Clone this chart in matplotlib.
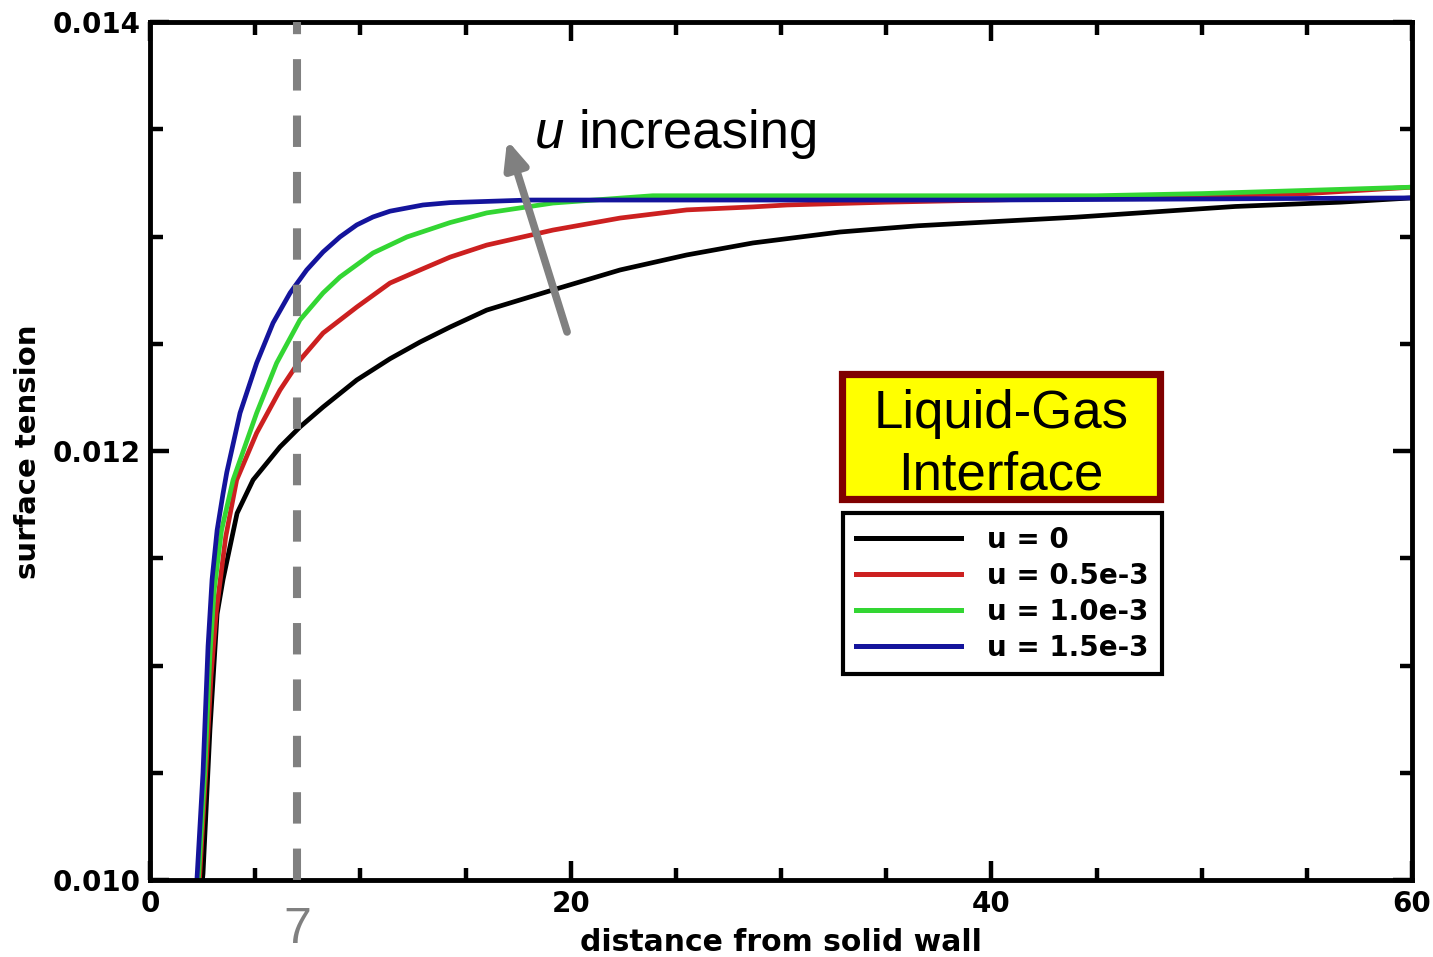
import matplotlib
matplotlib.use("Agg")
import matplotlib.pyplot as plt
from matplotlib.ticker import MultipleLocator, FixedLocator
from matplotlib.patches import Rectangle

# surface tension vs distance from the wall, for four wall velocities
x_u0 = [2.4, 2.52, 2.85, 3.19, 3.47, 4.14, 4.90, 6.18, 7.13, 8.23, 9.83, 11.41,
        12.84, 14.27, 16.01, 19.16, 22.35, 25.52, 28.67, 32.81, 36.5, 44.0, 47.8,
        51.6, 56.6, 60.0]
y_u0 = [0.00990, 0.01003, 0.01070, 0.01124, 0.01140, 0.01171, 0.011865, 0.012019,
        0.012112, 0.012205, 0.012331, 0.012430, 0.012508, 0.012578, 0.012657,
        0.012751, 0.012844, 0.012914, 0.012970, 0.013021, 0.01305, 0.01309,
        0.013115, 0.01314, 0.01316, 0.01318]

x_u05 = [2.25, 2.35, 2.65, 2.9, 3.15, 3.6, 4.12, 5.07, 6.18, 7.13, 8.23, 9.83,
         11.41, 12.84, 14.27, 16.01, 19.16, 22.35, 25.52, 28.67, 30.3, 35.0, 45.0,
         55.0, 60.0]
y_u05 = [0.00990, 0.01000, 0.01050, 0.01095, 0.01125, 0.01160, 0.011865, 0.012084,
         0.012284, 0.012424, 0.012550, 0.012671, 0.012783, 0.012844, 0.012904,
         0.012960, 0.013030, 0.013086, 0.013124, 0.013138, 0.013147, 0.01316,
         0.01318, 0.01320, 0.01323]

x_u10 = [2.2, 2.3, 2.6, 2.85, 3.05, 3.4, 3.95, 5.07, 6.02, 7.13, 8.23, 9.03, 10.6,
         12.22, 14.27, 16.01, 19.16, 23.9, 45.0, 50.0, 60.0]
y_u10 = [0.00990, 0.01000, 0.01050, 0.01105, 0.01135, 0.01163, 0.011865, 0.012177,
         0.012410, 0.012611, 0.012737, 0.012811, 0.012923, 0.012998, 0.013065,
         0.013110, 0.013156, 0.013190, 0.01319, 0.01320, 0.01323]

x_u15 = [2.15, 2.23, 2.52, 2.76, 2.95, 3.19, 3.47, 3.65, 4.28, 5.07, 5.85, 6.66,
         7.45, 8.23, 9.03, 9.83, 10.6, 11.41, 12.98, 14.27, 18.0, 25.0, 40.0, 60.0]
y_u15 = [0.00990, 0.01000, 0.01050, 0.01109, 0.01140, 0.01163, 0.01180, 0.01190,
         0.012177, 0.012410, 0.012597, 0.012737, 0.012844, 0.012928, 0.012998,
         0.013054, 0.013091, 0.013118, 0.013147, 0.013158, 0.01317, 0.01317,
         0.01317, 0.01318]

labels = ["u = 0", "u = 0.5e-3", "u = 1.0e-3", "u = 1.5e-3"]
colors = ["black", "#cc2020", "#33d633", "#14149c"]

x_cut = 7

fig = plt.figure(figsize=(14.33, 9.57), dpi=100)
ax = fig.add_axes([150 / 1433, 1 - 880 / 957, 1262 / 1433, 858 / 957])

series = [(x_u0, y_u0), (x_u05, y_u05), (x_u10, y_u10), (x_u15, y_u15)]
for (xs, ys), lab, c in zip(series, labels, colors):
    ax.plot(xs, ys, color=c, lw=3.4, label=lab, solid_joinstyle="round")

ax.plot([x_cut, x_cut], [0.010, 0.014], color="#808080", lw=5.8,
        dashes=(3.9, 3.1), zorder=5)
ax.text(x_cut, -0.0734, str(x_cut), transform=ax.get_xaxis_transform(),
        ha="center", va="baseline", fontsize=36, color="#808080",
        family="Liberation Sans")

ax.set_xlim(0, 60)
ax.set_ylim(0.010, 0.014)
ax.xaxis.set_major_locator(FixedLocator([0, 20, 40, 60]))
ax.xaxis.set_minor_locator(MultipleLocator(5))
ax.yaxis.set_major_locator(FixedLocator([0.010, 0.012, 0.014]))
ax.yaxis.set_minor_locator(MultipleLocator(0.0005))
ax.set_xticklabels(["0", "20", "40", "60"])
ax.set_yticklabels(["0.010", "0.012", "0.014"])

for s in ax.spines.values():
    s.set_linewidth(3.5)
ax.tick_params(which="both", direction="in", top=True, right=True, width=3.2)
ax.tick_params(which="major", length=14, pad=7)
ax.tick_params(which="minor", length=9)
for t in ax.get_xticklabels() + ax.get_yticklabels():
    t.set_fontsize(20)
    t.set_fontweight("bold")
    t.set_family("DejaVu Sans")

ax.set_xlabel("distance from solid wall", fontsize=21.5, fontweight="bold")
ax.set_ylabel("surface tension", fontsize=21, fontweight="bold")
ax.xaxis.set_label_coords(0.5, -0.0723)
ax.yaxis.set_label_coords(-0.0967, 0.4988)
ax.xaxis.label.set_va("center")
ax.yaxis.label.set_va("center")

# arrow showing the trend with u
ax.annotate("", xy=(16.98, 0.01345), xytext=(19.83, 0.012555),
            arrowprops=dict(arrowstyle="-|>,head_length=1.6,head_width=0.7",
                            color="#808080", lw=5.5, shrinkA=0, shrinkB=0),
            zorder=6)
fig.text(535 / 1433, 1 - 148 / 957, "u", fontsize=38, style="italic",
         family="Liberation Sans", va="baseline", ha="left")
fig.text(578 / 1433, 1 - 148 / 957, "increasing", fontsize=38,
         family="Liberation Sans", va="baseline", ha="left")

# yellow label box
fig.patches.append(Rectangle((841.5 / 1433, 1 - 498.5 / 957), 318 / 1433, 125 / 957,
                             transform=fig.transFigure, facecolor="#ffff00",
                             edgecolor="#800000", lw=5.2, zorder=10))
fig.text(1001 / 1433, 1 - 428 / 957, "Liquid-Gas", fontsize=38, ha="center",
         va="baseline", family="Liberation Sans", zorder=11)
fig.text(1001 / 1433, 1 - 490 / 957, "Interface", fontsize=38, ha="center",
         va="baseline", family="Liberation Sans", zorder=11)

leg = ax.legend(loc="upper left", bbox_to_anchor=(843 / 1433, 1 - 513 / 957),
                bbox_transform=fig.transFigure, borderaxespad=0, fancybox=False,
                edgecolor="black", framealpha=1, handlelength=3.8,
                handletextpad=0.95, labelspacing=0.29, borderpad=0.45,
                prop=dict(size=20, weight="bold", family="DejaVu Sans"))
leg.get_frame().set_linewidth(3)
for ln in leg.get_lines():
    ln.set_linewidth(3.6)

fig.savefig("out.png", dpi=100)
